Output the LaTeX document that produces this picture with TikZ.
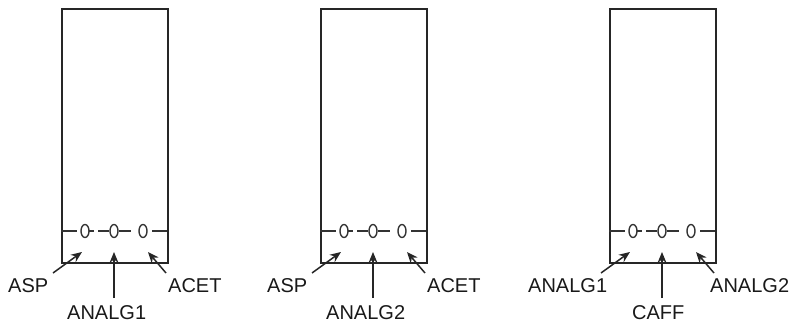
\documentclass[tikz,border=0pt]{standalone}
\usepackage{fontspec}
\setmainfont{Liberation Sans}
\usetikzlibrary{arrows.meta,shapes.geometric}
\tikzset{
  panelbox/.style={draw=black!85, line width=1.6pt, minimum width=106pt, minimum height=254pt, inner sep=0pt, anchor=north west},
  ovalmark/.style={draw=black!80, line width=1.4pt, ellipse, minimum width=8pt, minimum height=13pt, inner sep=0pt},
  tick/.style={draw=black!80, line width=1.3pt},
  lab/.style={font=\fontsize{20}{22}\selectfont, text=black!90, anchor=base west, inner sep=0pt},
  arr/.style={draw=black!85, line width=1.5pt, -{Stealth[length=11pt,width=9pt]}}
}
\newcommand\onepanel[8]{%
  \node[panelbox] (#2) at (#1,8) {};
  \node[ovalmark] (#2o1) at ({#1+24},231) {};
  \node[ovalmark] (#2o2) at ({#1+53},231) {};
  \node[ovalmark] (#2o3) at ({#1+82},231) {};
  \draw[tick] ({#1},231) -- ({#1+16},231);
  \draw[tick] ({#1+28},231) -- ({#1+33},231);
  \draw[tick] ({#1+37},231) -- ({#1+48},231);
  \draw[tick] ({#1+58},231) -- ({#1+70},231);
  \draw[tick] ({#1+91},231) -- ({#1+106},231);
  \node[lab] (#2la) at ({#1+#4},292) {#3};
  \node[lab] (#2lb) at ({#1+#6},319) {#5};
  \node[lab] (#2lc) at ({#1+#8},292) {#7};
  \coordinate (#2ta) at ({#1-8},273);
  \coordinate (#2ha) at ({#1+21},252);
  \coordinate (#2tb) at ({#1+53},298);
  \coordinate (#2hb) at ({#1+53},252);
  \coordinate (#2tc) at ({#1+105},273);
  \coordinate (#2hc) at ({#1+87},252);
  \draw[arr] (#2ta) -- (#2ha);
  \draw[arr] (#2tb) -- (#2hb);
  \draw[arr] (#2tc) -- (#2hc);
}
\begin{document}
\begin{tikzpicture}[x=1pt,y=-1pt]
\useasboundingbox (0,0) rectangle (793,324);
\onepanel{61}{p}{ASP}{-53}{ANALG1}{6}{ACET}{107}
\onepanel{320}{q}{ASP}{-53}{ANALG2}{6}{ACET}{107}
\onepanel{609}{r}{ANALG1}{-81}{CAFF}{23}{ANALG2}{101}
\end{tikzpicture}
\end{document}
